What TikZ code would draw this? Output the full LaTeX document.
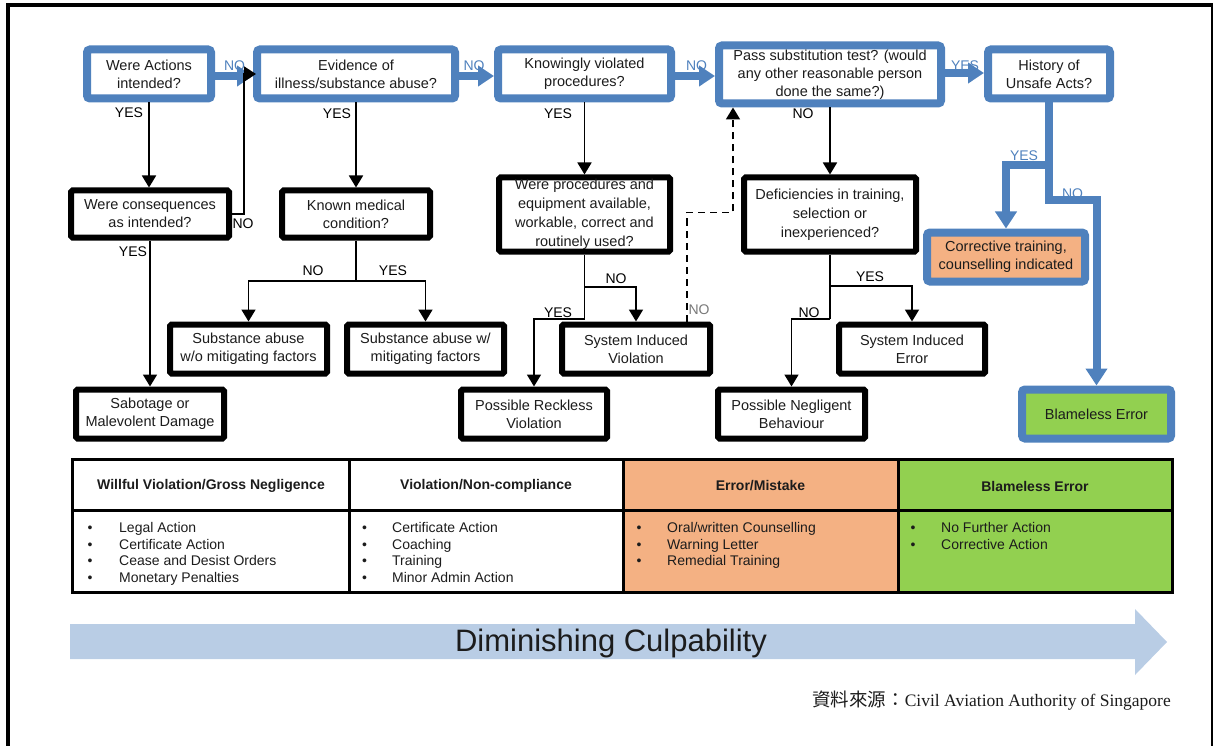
\documentclass[tikz,border=0pt]{standalone}
\usepackage{fontspec}
\setmainfont{Liberation Sans}
\newfontfamily\cjkfont{Noto Sans CJK TC}
\newfontfamily\timesfont{Liberation Serif}
\usetikzlibrary{arrows.meta}

\definecolor{flowblue}{RGB}{79,129,189}
\definecolor{txtgray}{RGB}{28,28,28}
\definecolor{corrorange}{RGB}{244,177,131}
\definecolor{okgreen}{RGB}{146,208,80}
\definecolor{bandblue}{RGB}{185,205,229}
\definecolor{dashgray}{RGB}{120,120,120}

\newcommand{\blt}[1]{\makebox[#1][l]{\textbullet}}

\begin{document}
\begin{tikzpicture}[x=1pt,y=-1pt,
  boxtext/.style={text=txtgray, align=center, inner sep=0pt,
    font=\fontsize{14.5}{18}\selectfont},
  bluebox/.style={boxtext, draw=flowblue, line width=8pt, fill=white,
    rounded corners=3pt},
  blackbox/.style={boxtext, draw=black, line width=6pt, fill=white,
    rounded corners=1.5pt},
  lbl/.style={inner sep=0pt, text=black, font=\fontsize{14}{14}\selectfont},
  bluelbl/.style={lbl, text=flowblue},
  bluearrow/.style={draw=flowblue, line width=8pt, line join=miter,
    -{Triangle[length=16pt,width=20pt]}},
  blkarrow/.style={draw=black, line width=1.8pt,
    -{Triangle[length=12pt,width=14pt]}},
  blkline/.style={draw=black, line width=1.8pt},
  hdr/.style={inner sep=0pt, text=txtgray, font=\bfseries\fontsize{14}{14}\selectfont},
  cellbody/.style={inner sep=0pt, anchor=north west, align=left, text=txtgray,
    font=\fontsize{14}{16.7}\selectfont},
]
\useasboundingbox (0,0) rectangle (1215,746);

% page frame
\draw[line width=4pt, line join=miter] (8,746) -- (8,5.5) -- (1213,5.5);
\draw[line width=1.5pt] (1212,5.5) -- (1212,746);

% ---------- decision boxes (top row) ----------
\node[bluebox, minimum width=124pt, minimum height=49pt] (b1) at (149,74) {Were Actions\\intended?};
\node[bluebox, minimum width=198pt, minimum height=49pt] (b2) at (356,74) {Evidence of\\illness/substance abuse?};
\node[bluebox, minimum width=173pt, minimum height=49pt] (b3) at (584.5,74) {Knowingly violated\\procedures?};
\node[bluebox, minimum width=222pt, minimum height=58pt] (b4) at (830,74.5) {Pass substitution test? (would\\any other reasonable person\\done the same?)};
\node[bluebox, minimum width=122pt, minimum height=49pt] (b5) at (1049,74) {History of\\Unsafe Acts?};

% ---------- second level questions ----------
\node[blackbox, minimum width=158pt, minimum height=47pt] (cons) at (150,214) {Were consequences\\as intended?};
\node[blackbox, minimum width=148pt, minimum height=47pt] (kmc) at (356,214) {Known medical\\condition?};
\node[blackbox, minimum width=171pt, minimum height=74pt, font=\fontsize{14.5}{19}\selectfont] (wpe) at (584.5,214.5) {Were procedures and\\equipment available,\\workable, correct and\\routinely used?};
\node[blackbox, minimum width=172pt, minimum height=74pt, font=\fontsize{14.5}{19}\selectfont] (def) at (830,214.5) {Deficiencies in training,\\selection or\\inexperienced?};
\node[bluebox, fill=corrorange, minimum width=158pt, minimum height=49pt] (corr) at (1006,257) {Corrective training,\\counselling indicated};

% ---------- outcomes ----------
\node[blackbox, minimum width=157pt, minimum height=49pt] (sa1) at (248.5,349) {Substance abuse\\w/o mitigating factors};
\node[blackbox, minimum width=157pt, minimum height=49pt] (sa2) at (425.5,349) {Substance abuse w/\\mitigating factors};
\node[blackbox, minimum width=148pt, minimum height=49pt] (siv) at (636,349) {System Induced\\Violation};
\node[blackbox, minimum width=146pt, minimum height=49pt] (sie) at (912,349) {System Induced\\Error};
\node[blackbox, minimum width=148pt, minimum height=49pt] (sab) at (150,414) {Sabotage or\\Malevolent Damage};
\node[blackbox, minimum width=146pt, minimum height=49pt] (prv) at (534,414) {Possible Reckless\\Violation};
\node[blackbox, minimum width=147pt, minimum height=49pt] (pnb) at (791.5,414) {Possible Negligent\\Behaviour};
\node[bluebox, fill=okgreen, minimum width=149pt, minimum height=49pt] (blame) at (1096.5,414) {Blameless Error};

% ---------- blue NO/YES chain ----------
\node[bluelbl] (n12) at (234.5,66) {NO};
\node[bluelbl] (n23) at (474,66) {NO};
\node[bluelbl] (n34) at (696.5,66) {NO};
\node[bluelbl] (y45) at (965,66) {YES};
\node[bluelbl] (y5c) at (1024,156) {YES};
\node[bluelbl] (n5b) at (1072.5,193.5) {NO};

\draw[bluearrow] (b1.east |- 0,76) -- (b2.west |- 0,76);
\draw[bluearrow] (b2.east |- 0,76) -- (b3.west |- 0,76);
\draw[bluearrow] (b3.east |- 0,76) -- (b4.west |- 0,76);
\draw[bluearrow] (b4.east |- 0,73) -- (b5.west |- 0,73);

\coordinate (hsplit) at (b5.south |- 0,165);
\coordinate (hbend) at (b5.south |- 0,200);
\draw[bluearrow, -{Triangle[length=17pt,width=21pt]}] (b5.south) -- (hbend) -| (blame.north);
\draw[bluearrow, -{Triangle[length=17pt,width=21pt]}] (hsplit) -| (corr.north);

% ---------- black connectors ----------
\draw[blkarrow] (b1.south) -- (b1.south |- cons.north);
\draw[blkarrow, -{Triangle[length=12pt,width=15pt]}] (cons.east) -- ++(12,0) |- ([xshift=3pt]b2.west);
\draw[blkarrow] (cons.south) -- (sab.north);
\draw[blkarrow] (b2.south) -- (kmc.north);
\draw[blkarrow] (b3.south) -- (wpe.north);
\draw[blkarrow] (b4.south) -- (def.north);

\coordinate (kmsplit) at (kmc.south |- 0,281);
\draw[blkline] (kmc.south) -- (kmsplit);
\draw[blkarrow] (kmsplit) -| (sa1.north);
\draw[blkarrow] (kmsplit) -| (sa2.north);

\coordinate (wpno) at (wpe.south |- 0,287);
\coordinate (wpyes) at (wpe.south |- 0,319);
\draw[blkline] (wpe.south) -- (wpyes);
\draw[blkarrow] (wpno) -| (siv.north);
\draw[blkarrow] (wpyes) -| (prv.north);

\coordinate (dfyes) at (def.south |- 0,286);
\coordinate (dfno) at (def.south |- 0,319);
\draw[blkline] (def.south) -- (dfno);
\draw[blkarrow] (dfyes) -| (sie.north);
\draw[blkarrow] (dfno) -| (pnb.north);

% system induced violation back to the substitution test
\draw[blkarrow, dash pattern=on 7pt off 5pt] ([xshift=51pt]siv.north) -- ++(0,-109) -| ([xshift=-97pt]b4.south);

% ---------- branch labels ----------
\node[lbl] (ly1) at (129,113) {YES};
\node[lbl] (ly2) at (337,114) {YES};
\node[lbl] (ly3) at (558,114) {YES};
\node[lbl] (ln4) at (803,114) {NO};
\node[lbl] (lnc) at (243,224) {NO};
\node[lbl] (lyc) at (133,252) {YES};
\node[lbl] (lnk) at (313,271) {NO};
\node[lbl] (lyk) at (393,271) {YES};
\node[lbl] (lnw) at (616,279) {NO};
\node[lbl] (lyw) at (558,313) {YES};
\node[lbl, text=dashgray] (lns) at (699,310) {NO};
\node[lbl] (lyd) at (870,277) {YES};
\node[lbl] (lnd) at (809,313) {NO};

% ---------- consequence table ----------
\fill[corrorange] (623,459) rectangle (898,592);
\fill[okgreen] (898,459) rectangle (1172,592);
\draw[line width=3pt] (72,459) rectangle (1172,592);
\draw[line width=3pt] (72,510) -- (1172,510);
\draw[line width=3pt] (349,459) -- (349,592);
\draw[line width=3pt] (623,459) -- (623,592);
\draw[line width=3pt] (898,459) -- (898,592);

\node[hdr] (h1) at (211,486) {Willful Violation/Gross Negligence};
\node[hdr] (h2) at (486,486) {Violation/Non-compliance};
\node[hdr] (h3) at (760.5,486) {Error/Mistake};
\node[hdr] (h4) at (1035,486) {Blameless Error};

\node[cellbody] (c1) at (87.5,522) {\blt{31.5pt}Legal Action\\\blt{31.5pt}Certificate Action\\\blt{31.5pt}Cease and Desist Orders\\\blt{31.5pt}Monetary Penalties};
\node[cellbody] (c2) at (362,522) {\blt{30pt}Certificate Action\\\blt{30pt}Coaching\\\blt{30pt}Training\\\blt{30pt}Minor Admin Action};
\node[cellbody] (c3) at (636.5,522) {\blt{30.5pt}Oral/written Counselling\\\blt{30.5pt}Warning Letter\\\blt{30.5pt}Remedial Training};
\node[cellbody] (c4) at (910.5,522) {\blt{30.5pt}No Further Action\\\blt{30.5pt}Corrective Action};

% ---------- culpability band ----------
\fill[bandblue] (70,624) -- (1135,624) -- (1135,609) -- (1167,642) -- (1135,675) -- (1135,659) -- (70,659) -- cycle;
\node[inner sep=0pt, text=txtgray, font=\fontsize{31}{31}\selectfont] (dc) at (611,643) {Diminishing Culpability};

% ---------- source ----------
\node[anchor=east, inner sep=0pt, text=txtgray] (src) at (1171,701)
  {{\cjkfont\fontsize{18.5}{18.5}\selectfont 資料來源：}{\timesfont\fontsize{17.5}{17.5}\selectfont Civil Aviation Authority of Singapore}};
\end{tikzpicture}
\end{document}
